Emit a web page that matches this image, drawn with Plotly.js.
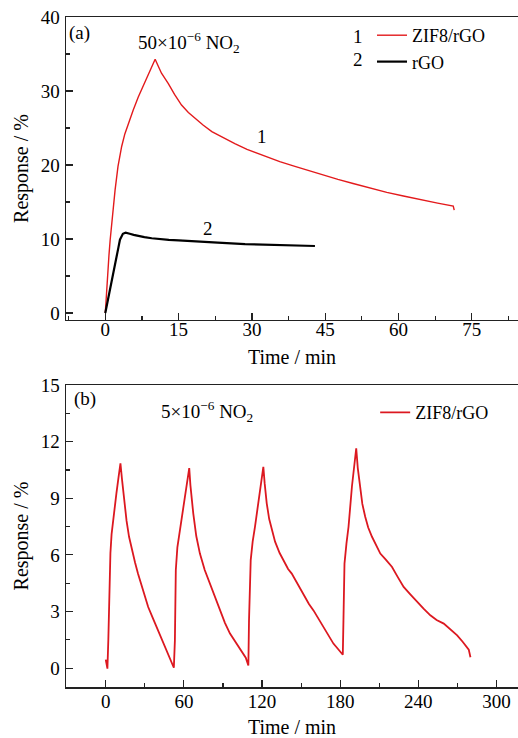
<!DOCTYPE html>
<html>
<head>
<meta charset="utf-8">
<script src="https://cdn.plot.ly/plotly-3.0.1.min.js"></script>
<style>html,body{margin:0;padding:0;background:#fff;}</style>
</head>
<body>
<div id="chart" style="width:518px;height:738px;"></div>
<script>
// Panel (a): 50x10^-6 NO2
const tA1 = [0, 0.25, 0.5, 0.75, 1.0, 1.5, 2.0, 2.6, 3.35, 4.0, 4.7, 5.7, 6.75, 7.8, 8.8, 9.6, 10.2,
  10.8, 11.5, 12.2, 12.9, 14.2, 15.6, 17, 18.35, 20, 21.8, 24, 26.5, 29, 32, 35.7, 38.8, 41.7, 44.6, 47.6, 50.7, 54, 57.6, 61, 64.4, 68, 71.2, 71.4];
const rA1 = [0, 3, 5.4, 7.8, 9.9, 13.5, 16.6, 19.8, 22.5, 24.2, 25.6, 27.4, 29.2, 30.8, 32.4, 33.6, 34.3,
  33.4, 32.4, 31.7, 31.0, 29.5, 28.1, 27.1, 26.3, 25.4, 24.5, 23.7, 22.9, 22.1, 21.35, 20.45, 19.8, 19.2, 18.65, 18.05, 17.5, 16.9, 16.3, 15.8, 15.3, 14.85, 14.45, 13.9];
const tA2 = [0, 0.4, 0.8, 1.2, 1.64, 2.0, 2.4, 2.7, 3.0, 3.3, 3.6, 4.17, 4.6, 5.0, 5.8, 6.75, 8, 9.5, 11.5, 13, 15, 18.35, 23, 28.6, 33, 38.8, 42.9];
const rA2 = [0, 1.4, 2.8, 4.1, 5.4, 6.6, 7.9, 8.9, 9.9, 10.4, 10.7, 10.85, 10.8, 10.7, 10.55, 10.4, 10.25, 10.1, 9.95, 9.87, 9.8, 9.65, 9.5, 9.3, 9.2, 9.1, 9.05];

// Panel (b): 5x10^-6 NO2, four cycles
const tB = [0, 1.3, 2.0, 2.3, 2.8, 3.6, 4.5, 5.6, 6.8, 8.2, 9.8, 11.3,
  12.5, 13.6, 14.6, 16, 17.9, 20, 22.5, 24.8, 28.5, 32.6, 36.5, 40.2, 44, 47.9, 50.5, 52.3,
  53.1, 53.8, 55, 56.9, 58.5, 60.2, 62.2, 64.1,
  65, 66, 67.2, 69.5, 72.3, 76, 80, 84, 87.7, 91.5, 95.4, 100, 104.4, 107.5, 109.5,
  110, 111.3, 112.8, 114.6, 116, 117.7, 119.4, 121,
  122, 123.6, 125.5, 127.5, 130, 133.5, 137.7, 140, 142.8, 146, 149.2, 153.1, 156, 159.5, 164.5, 169.8, 174.8, 178.5, 182,
  182.5, 183.3, 184.8, 186.4, 189, 190.8, 192.3,
  193.5, 195.4, 197, 199.2, 201.5, 204.4, 207.5, 210.8, 215, 219.8, 224, 228.7, 234, 239, 244, 249.2, 254, 259.5, 265, 269.8, 274, 278.7, 280];
const rB = [0.45, -0.03, 1.5, 2.5, 4.2, 6.1, 7.1, 7.85, 8.6, 9.26, 10.1, 10.85,
  10.0, 9.3, 8.73, 7.8, 6.96, 6.3, 5.6, 5.0, 4.1, 3.24, 2.6, 2.0, 1.4, 0.76, 0.35, 0.02,
  1.47, 5.2, 6.4, 7.3, 8.1, 8.9, 9.8, 10.6,
  9.7, 8.9, 8.2, 7.0, 6.07, 5.2, 4.48, 3.75, 3.06, 2.4, 1.83, 1.35, 0.94, 0.55, 0.14,
  2.53, 5.72, 6.7, 7.5, 8.2, 8.9, 9.8, 10.67,
  9.8, 8.73, 7.9, 7.31, 6.7, 6.1, 5.54, 5.25, 5.01, 4.6, 4.2, 3.77, 3.4, 3.06, 2.5, 1.91, 1.3, 1.0, 0.71,
  2.53, 5.54, 6.6, 7.49, 9.61, 10.6, 11.65,
  10.6, 9.61, 8.7, 8.02, 7.45, 6.96, 6.5, 6.07, 5.75, 5.36, 4.85, 4.3, 3.9, 3.5, 3.15, 2.8, 2.55, 2.36, 2.05, 1.74, 1.4, 0.98, 0.58];

const seriesNames = ['ZIF8/rGO', 'rGO'];
const xTicksA = [0, 15, 30, 45, 60, 75];
const yTicksA = [0, 10, 20, 30, 40];
const xTicksB = [0, 60, 120, 180, 240, 300];
const yTicksB = [0, 3, 6, 9, 12, 15];

const RED = '#e31a1c';
const FONT = "'Liberation Serif', 'Times New Roman', serif";

const traces = [
  {x: tA1, y: rA1, type: 'scatter', mode: 'lines', name: seriesNames[0],
   line: {color: RED, width: 1.4}, xaxis: 'x', yaxis: 'y', legend: 'legend'},
  {x: tA2, y: rA2, type: 'scatter', mode: 'lines', name: seriesNames[1],
   line: {color: '#000', width: 2.2}, xaxis: 'x', yaxis: 'y', legend: 'legend'},
  {x: tB, y: rB, type: 'scatter', mode: 'lines', name: seriesNames[0],
   line: {color: '#dc1820', width: 1.8}, xaxis: 'x2', yaxis: 'y2', legend: 'legend2'}
];

const axCommon = {
  showline: true, linecolor: '#222', linewidth: 1.5,
  ticks: 'inside', ticklen: 7, tickwidth: 1.2, tickcolor: '#222',
  showgrid: false, zeroline: false,
  tickfont: {family: FONT, size: 19, color: '#000'}
};

const layout = {
  width: 518, height: 738,
  margin: {l: 66, r: 0, t: 17, b: 51},
  paper_bgcolor: '#fff', plot_bgcolor: '#fff',
  font: {family: FONT, color: '#000'},
  showlegend: true,
  xaxis: Object.assign({}, axCommon, {
    domain: [0, 1], anchor: 'y', range: [-8.04, 84.45],
    tickvals: xTicksA, mirror: true, ticklabelstandoff: -8,
    minor: {dtick: 7.5, ticks: 'inside', ticklen: 4, tickcolor: '#222', tickwidth: 1.2},
    title: {text: 'Time / min', font: {family: FONT, size: 20}, standoff: 10}
  }),
  yaxis: Object.assign({}, axCommon, {
    domain: [0.5478, 1], anchor: 'x', range: [-0.95, 40],
    tickvals: yTicksA, ticklabelstandoff: 1,
    minor: {dtick: 5, ticks: 'inside', ticklen: 4, tickcolor: '#222', tickwidth: 1.2},
    title: {text: 'Response / %', font: {family: FONT, size: 20}, standoff: 6}
  }),
  xaxis2: Object.assign({}, axCommon, {
    domain: [0, 1], anchor: 'y2', range: [-30.5, 316.5],
    tickvals: xTicksB, mirror: true, ticklabelstandoff: -3,
    minor: {dtick: 30, ticks: 'inside', ticklen: 4, tickcolor: '#222', tickwidth: 1.2},
    title: {text: 'Time / min', font: {family: FONT, size: 20}, standoff: 9}
  }),
  yaxis2: Object.assign({}, axCommon, {
    domain: [0, 0.4507], anchor: 'x2', range: [-1, 15],
    tickvals: yTicksB, ticklabelstandoff: 1,
    minor: {dtick: 1.5, ticks: 'inside', ticklen: 4, tickcolor: '#222', tickwidth: 1.2},
    title: {text: 'Response / %', font: {family: FONT, size: 20}, standoff: 6}
  }),
  legend: {x: 0.677, xanchor: 'left', y: 1.0, yanchor: 'top',
    bgcolor: 'rgba(0,0,0,0)', borderwidth: 0, tracegroupgap: 0,
    font: {family: FONT, size: 18, color: '#000'}},
  legend2: {x: 0.684, xanchor: 'left', y: 0.437, yanchor: 'top',
    bgcolor: 'rgba(0,0,0,0)', borderwidth: 0,
    font: {family: FONT, size: 18, color: '#000'}},
  annotations: [
    {xref: 'x', yref: 'y', x: -5.2, y: 37.8, text: '(a)', showarrow: false,
     font: {family: FONT, size: 19}},
    {xref: 'x', yref: 'y', x: 17.1, y: 36.5, text: '50×10<sup>−6</sup> NO<sub>2</sub>', showarrow: false,
     font: {family: FONT, size: 19}},
    {xref: 'x', yref: 'y', x: 32.0, y: 23.8, text: '1', showarrow: false,
     font: {family: FONT, size: 19}},
    {xref: 'x', yref: 'y', x: 21.1, y: 11.45, text: '2', showarrow: false,
     font: {family: FONT, size: 19}},
    {xref: 'x', yref: 'y', x: 51.7, y: 37.4, text: '1', showarrow: false,
     font: {family: FONT, size: 19}},
    {xref: 'x', yref: 'y', x: 51.8, y: 34.2, text: '2', showarrow: false,
     font: {family: FONT, size: 19}},
    {xref: 'x2', yref: 'y2', x: -15.9, y: 14.27, text: '(b)', showarrow: false,
     font: {family: FONT, size: 19}},
    {xref: 'x2', yref: 'y2', x: 77.8, y: 13.58, text: '5×10<sup>−6</sup> NO<sub>2</sub>', showarrow: false,
     font: {family: FONT, size: 19}}
  ]
};

Plotly.newPlot('chart', traces, layout, {staticPlot: true, displayModeBar: false});
</script>
</body>
</html>
